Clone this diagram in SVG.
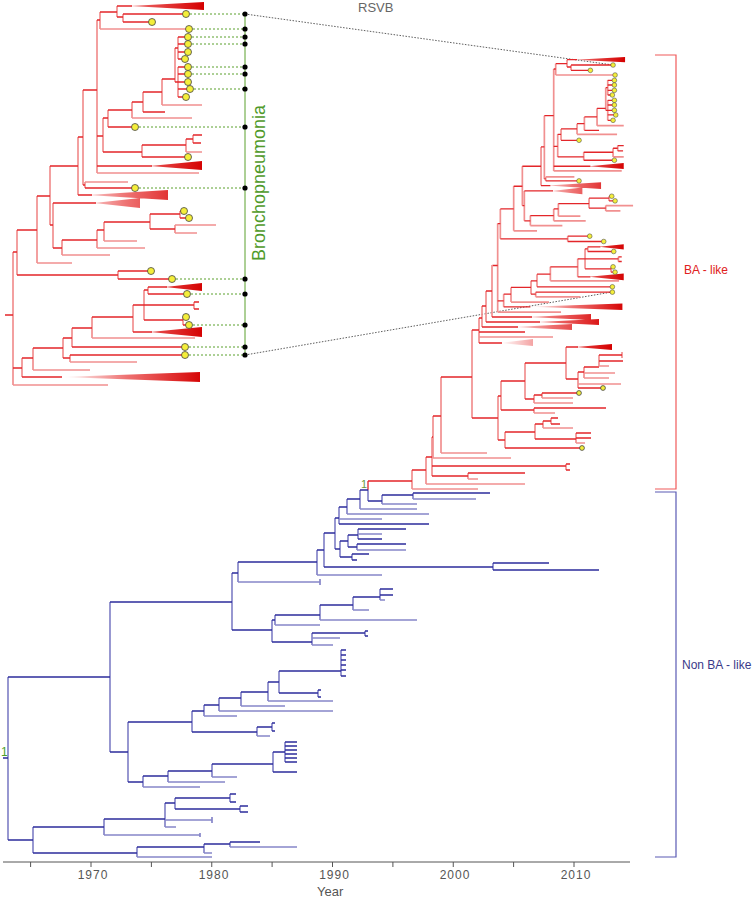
<svg xmlns="http://www.w3.org/2000/svg" xmlns:xlink="http://www.w3.org/1999/xlink" width="756" height="898" viewBox="0 0 756 898">
<style>
.r{fill:none;stroke:#e3262a;stroke-width:1.3;vector-effect:non-scaling-stroke}
.p{fill:none;stroke:#f19090;stroke-width:1.7;vector-effect:non-scaling-stroke}
.b{fill:none;stroke:#2d2d9c;stroke-width:1.3}
.bl{fill:none;stroke:#8686c9;stroke-width:1.7}
.y{fill:#f4ee3a;stroke:#444;stroke-width:0.8}
.tri{fill:url(#tg);stroke:none}
.gd{fill:none;stroke:#5aa02c;stroke-width:1;stroke-dasharray:2,2}
.kd{fill:none;stroke:#333;stroke-width:0.8;stroke-dasharray:1.5,1.5}
.dot{fill:#000}
text{font-family:"Liberation Sans",Arial,Helvetica,sans-serif}
.tick{font-size:12px;fill:#555;letter-spacing:1px;text-anchor:middle}
</style>
<defs>
<linearGradient id="tg" x1="0" x2="1" y1="0" y2="0">
<stop offset="0" stop-color="#e00000" stop-opacity="0"/>
<stop offset="0.45" stop-color="#e00000" stop-opacity="0.55"/>
<stop offset="1" stop-color="#d40000"/>
</linearGradient>
<g id="clade">
<path class="p" d="M117 6V17 M123 14V22 M100 12V29 M97 20V173 M103 118V152 M108 110V127 M132 102V118 M143 92V112 M162 79V105 M175 48V82 M178 37V59 M178 67V97 M142 145V157 M186 139V152 M193 135V143 M83 90V185 M85 182V188 M78 137V195 M50 166V225 M53 203V248 M62 240V255 M97 230V248 M104 222V241 M150 214V229 M180 211V218 M175 225V233 M37 196V263 M17 230V275 M118 271V279 M13 252V385 M22 358V377 M33 348V370 M63 338V358 M72 328V347 M70 355V362 M92 317V338 M133 305V332 M144 290V320 M148 287V294 M194 302V309 M183 317V325"/>
<path class="r" d="M117 6H132 M117 17H123 M123 14H186 M123 22H152 M100 12H117 M97 20H100 M97 136H103 M97 166H152 M103 118H108 M103 152H142 M108 110H132 M108 127H135 M132 102H143 M143 92H162 M143 112H165 M162 79H175 M175 48H178 M175 82H178 M178 37H188 M178 44H188 M178 52H188 M178 59H185 M178 67H188 M178 74H188 M178 82H188 M178 89H190 M178 97H186 M142 145H186 M142 157H188 M186 139H193 M193 135H202 M193 143H201 M83 90H97 M83 185H85 M85 188H135 M78 137H83 M78 195H92 M50 166H78 M50 225H53 M53 203H96 M53 248H62 M62 240H97 M97 230H104 M104 222H150 M150 214H180 M150 229H175 M180 211H184 M180 218H189 M37 196H50 M17 230H37 M17 275H118 M118 271H151 M118 279H172 M13 252H17 M13 368H22 M5 315H13 M22 358H33 M22 377H62 M33 348H63 M63 338H72 M63 358H70 M72 328H92 M72 347H185 M70 355H185 M92 317H133 M133 305H194 M133 332H152 M144 290H148 M144 320H183 M148 287H167 M148 294H187 M194 302H199 M194 309H199 M183 317H186 M183 325H189"/>
<path class="p" d="M100 29H189 M97 173H199 M132 118H192 M162 105H202 M186 152H202 M85 182H128 M62 255H110 M97 248H145 M104 241H137 M175 225H216 M175 233H197 M37 263H72 M13 385H108 M33 370H90 M70 362H137 M92 338H195"/>
<path class="tri" d="M130 6L204 2L204 10Z M150 166L202 161L202 170Z M88 195L168 190L168 200Z M94 203L140 198L140 208Z M62 377L200 372L200 382Z M150 332L202 327L202 337Z M165 287L202 283L202 291Z"/>
<g class="y">
<circle cx="186" cy="14" r="3.5"/><circle cx="152" cy="22" r="3.5"/><circle cx="189" cy="29" r="3.5"/>
<circle cx="188" cy="37" r="3.5"/><circle cx="188" cy="44" r="3.5"/><circle cx="188" cy="52" r="3.5"/>
<circle cx="185" cy="59" r="3.5"/><circle cx="188" cy="67" r="3.5"/><circle cx="188" cy="74" r="3.5"/>
<circle cx="188" cy="82" r="3.5"/><circle cx="190" cy="89" r="3.5"/><circle cx="186" cy="97" r="3.5"/>
<circle cx="135" cy="127" r="3.5"/><circle cx="188" cy="157" r="3.5"/><circle cx="135" cy="188" r="3.5"/>
<circle cx="184" cy="211" r="3.5"/><circle cx="189" cy="218" r="3.5"/><circle cx="151" cy="271" r="3.5"/>
<circle cx="172" cy="279" r="3.5"/><circle cx="187" cy="294" r="3.5"/><circle cx="186" cy="317" r="3.5"/>
<circle cx="189" cy="325" r="3.5"/><circle cx="185" cy="347" r="3.5"/><circle cx="185" cy="355" r="3.5"/>
</g>
</g>
</defs>

<text x="358" y="12" font-size="13" fill="#666">RSVB</text>

<g id="connectors">
<path class="gd" d="M186 14H245 M189 29H245 M188 37H245 M188 44H245 M188 67H245 M188 74H245 M190 89H245 M135 127H245 M135 188H245 M172 279H245 M187 294H245 M189 325H245 M185 347H245 M185 355H245"/>
<path class="kd" d="M245 14L613 65 M245 355L612 292"/>
</g>

<g id="inset-tree">
<use xlink:href="#clade" href="#clade"/>
</g>

<g id="bronchopneumonia">
<path d="M245 14V355" fill="none" stroke="#5aa02c" stroke-width="1"/>
<g class="dot">
<circle cx="245" cy="14" r="2.6"/><circle cx="245" cy="29" r="2.6"/><circle cx="245" cy="37" r="2.6"/>
<circle cx="245" cy="44" r="2.6"/><circle cx="245" cy="67" r="2.6"/><circle cx="245" cy="74" r="2.6"/>
<circle cx="245" cy="89" r="2.6"/><circle cx="245" cy="127" r="2.6"/><circle cx="245" cy="188" r="2.6"/>
<circle cx="245" cy="279" r="2.6"/><circle cx="245" cy="294" r="2.6"/><circle cx="245" cy="325" r="2.6"/>
<circle cx="245" cy="347" r="2.6"/><circle cx="245" cy="355" r="2.6"/>
</g>
<text transform="translate(265 183) rotate(-90)" font-size="18" fill="#4f9a2a" text-anchor="middle">Bronchopneumonia</text>
</g>

<g id="main-red">
<use xlink:href="#clade" href="#clade" transform="matrix(0.667 0 0 0.666 489 55.7)"/>
<path class="p" d="M492 265V317 M486 291V322 M482 306V327 M479 318V343 M472 330V418 M498 396V440 M501 381V410 M525 363V399 M566 347V379 M578 372V388 M584 367V378 M599 355V366 M622 352V358 M534 395V403 M542 393V398 M534 408V413 M505 432V448 M535 424V439 M543 421V428 M551 418V424 M576 433V443 M441 377V453 M433 416V458 M432 437V476 M566 464V470 M468 473V479 M426 457V484 M412 470V489"/>
<path class="r" d="M492 317H532 M486 291H492 M486 322H540 M482 306H486 M482 327H518 M479 318H482 M479 332H525 M479 343H502 M472 330H479 M472 418H498 M498 396H501 M498 440H505 M501 381H525 M501 410H534 M525 363H566 M525 399H534 M566 347H578 M566 379H578 M578 372H584 M578 388H603 M584 367H599 M599 355H622 M599 361H623 M534 395H542 M542 393H579 M534 408H606 M505 432H535 M505 448H582 M535 424H543 M535 439H576 M543 421H551 M551 418H558 M551 424H560 M576 433H591 M576 438H591 M441 377H472 M433 416H441 M432 437H433 M432 466H566 M566 464H570 M566 470H570 M432 476H468 M468 473H525 M426 457H432 M412 470H426 M368 481H412 M368 481V490"/>
<path class="p" d="M479 337H553 M578 384H621 M584 373H615 M584 378H609 M599 366H609 M534 403H573 M542 398H573 M534 413H555 M543 428H573 M576 443H585 M441 453H487 M433 458H511 M468 479H478 M426 484H525 M412 489H478"/>
<path class="tri" d="M528 317L591 314L591 320Z M538 322L599 319L599 325Z M515 327L572 324L572 330Z M500 343L533 339L533 346Z M576 347L612 344L612 350Z"/>
<g class="y">
<circle cx="603" cy="388" r="2.4"/><circle cx="579" cy="393" r="2.4"/><circle cx="582" cy="448" r="2.4"/>
</g>
</g>

<g id="main-blue">
<path class="bl" d="M368 490V501 M382 495V504 M413 493V499 M360 490V509 M347 499V514 M339 507V524 M335 518V549 M340 541V557 M348 535V547 M358 529V539 M357 544V550 M352 554V560 M324 533V567 M317 550V575 M238 562V582 M232 573V630 M272 620V642 M275 615V625 M320 605V620 M353 597V610 M380 589V600 M312 633V645 M365 631V636 M493 563V570 M110 602V752 M128 722V782 M192 711V732 M204 705V716 M219 698V711 M241 692V706 M268 682V701 M279 671V693 M341 650V676 M318 690V697 M257 727V736 M272 723V731 M143 776V787 M168 771V782 M212 764V777 M273 752V772 M285 742V762 M8 677V840 M33 827V853 M104 819V835 M165 803V827 M175 798V809 M230 794V802 M240 806V812 M212 817V823 M137 847V857 M204 844V853 M230 842V847 M320 579V585 M200 833V837"/>
<path class="b" d="M368 501H382 M382 495H413 M413 493H490 M360 490H368 M347 499H360 M339 507H347 M339 524H429 M335 518H339 M335 549H340 M340 541H348 M340 557H352 M348 535H358 M348 547H357 M358 529H406 M358 539H382 M357 544H406 M352 554H369 M352 560H357 M324 533H335 M324 567H493 M493 563H549 M493 570H599 M317 550H324 M238 562H317 M232 573H238 M232 630H272 M272 620H275 M272 642H312 M275 615H320 M320 605H353 M353 597H380 M380 589H393 M380 595H393 M312 633H365 M365 631H368 M365 636H368 M110 602H232 M110 752H128 M128 722H192 M128 782H143 M192 711H204 M192 732H257 M257 727H272 M272 723H275 M272 731H275 M204 705H219 M219 698H241 M241 692H268 M268 682H279 M279 671H341 M279 693H318 M318 690H321 M318 697H321 M341 650H346 M341 655H346 M341 660H346 M341 665H346 M341 670H346 M341 676H346 M143 776H168 M168 771H212 M212 764H273 M273 752H285 M273 772H297 M285 742H297 M285 746H297 M285 750H297 M285 754H297 M285 758H297 M285 762H297 M8 677H110 M8 840H33 M3 758H8 M33 827H104 M33 853H137 M104 819H165 M165 803H175 M175 798H230 M230 794H236 M230 802H236 M175 809H240 M240 806H248 M240 812H248 M137 847H204 M204 844H230 M230 842H260"/>
<path class="bl" d="M382 504H417 M413 499H476 M360 509H417 M347 514H429 M339 519H382 M358 534H382 M357 550H406 M317 575H382 M238 582H320 M275 625H320 M320 620H417 M353 610H369 M380 600H385 M312 638H340 M312 645H333 M257 736H270 M204 716H237 M219 711H333 M241 706H285 M268 701H333 M143 787H200 M168 782H225 M212 777H237 M104 835H200 M165 820H212 M165 827H176 M137 857H212 M204 853H212 M230 847H297"/>
</g>

<text x="361" y="488" font-size="11" fill="#6b9a3a">1</text>
<text x="1" y="756" font-size="12" fill="#4aa02a">1</text>

<g id="brackets">
<path d="M655 55H676V489H655" fill="none" stroke="#f05a5a" stroke-width="1.2"/>
<path d="M655 492H676V857H655" fill="none" stroke="#5a5ab4" stroke-width="1.2"/>
<text x="684" y="274" font-size="12" fill="#e02020">BA - like</text>
<text x="682" y="669" font-size="12" fill="#3a3a8a">Non BA - like</text>
</g>

<g id="axis">
<path d="M3 862H630 M30.6 862V867 M91 862V867 M151.4 862V867 M211.75 862V867 M272.1 862V867 M332.5 862V867 M392.9 862V867 M453.25 862V867 M513.6 862V867 M574 862V867" fill="none" stroke="#555" stroke-width="1"/>
<text class="tick" x="93" y="879">1970</text>
<text class="tick" x="214" y="879">1980</text>
<text class="tick" x="334.5" y="879">1990</text>
<text class="tick" x="455" y="879">2000</text>
<text class="tick" x="576" y="879">2010</text>
<text x="317" y="896" font-size="13" fill="#555">Year</text>
</g>
</svg>
